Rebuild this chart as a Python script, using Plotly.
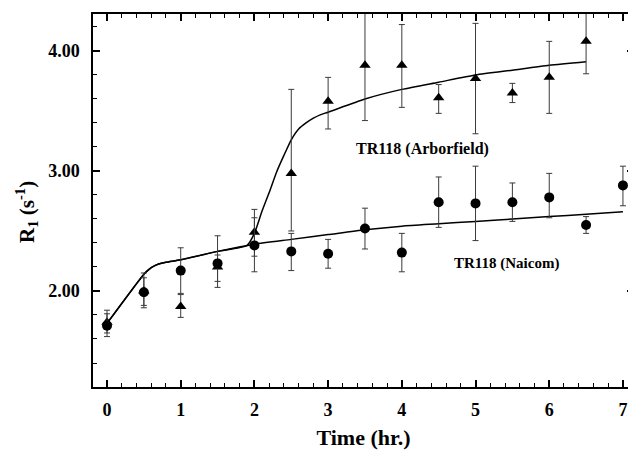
import plotly.graph_objects as go

# Measured data: TR118 (Naicom) - circles
t_nai = [0, 0.5, 1, 1.5, 2, 2.5, 3, 3.5, 4, 4.5, 5, 5.5, 6, 6.5, 7]
r_nai = [1.71, 1.99, 2.17, 2.23, 2.38, 2.33, 2.31, 2.52, 2.32, 2.74, 2.73, 2.74, 2.78, 2.55, 2.88]
hi_nai = [1.81, 2.11, 2.36, 2.46, 2.61, 2.48, 2.43, 2.69, 2.48, 2.95, 3.04, 2.90, 2.98, 2.62, 3.04]
lo_nai = [1.62, 1.88, 1.98, 2.03, 2.16, 2.17, 2.19, 2.35, 2.16, 2.53, 2.42, 2.58, 2.61, 2.48, 2.71]

# Measured data: TR118 (Arborfield) - triangles
t_arb = [0, 0.5, 1, 1.5, 2, 2.5, 3, 3.5, 4, 4.5, 5, 5.5, 6, 6.5]
r_arb = [1.74, 2.00, 1.87, 2.20, 2.49, 2.98, 3.58, 3.88, 3.88, 3.61, 3.77, 3.65, 3.78, 4.08]
hi_arb = [1.84, 2.15, 1.97, 2.30, 2.68, 3.68, 3.78, 4.35, 4.22, 3.72, 4.23, 3.73, 4.08, 4.45]
lo_arb = [1.65, 1.86, 1.78, 2.08, 2.29, 2.50, 3.35, 3.42, 3.53, 3.48, 3.31, 3.57, 3.48, 3.81]

# Fitted curves
t_fit_nai = [0, 0.5, 0.55, 0.6, 0.7, 0.8, 1.0, 1.5, 2.0, 2.5, 3.0, 3.5, 4.0, 4.5, 5.0, 5.5, 6.0, 6.5, 7.0]
r_fit_nai = [1.73, 2.14, 2.17, 2.195, 2.225, 2.24, 2.26, 2.33, 2.39, 2.43, 2.47, 2.51, 2.54, 2.56, 2.58, 2.60, 2.62, 2.64, 2.66]

t_fit_arb = [0, 0.5, 0.55, 0.6, 0.7, 0.8, 1.0, 1.5, 1.9, 2.0, 2.1, 2.2, 2.3, 2.4, 2.5, 2.6, 2.7, 2.8, 2.9, 3.0,
             3.5, 4.0, 4.5, 5.0, 5.5, 6.0, 6.5]
r_fit_arb = [1.73, 2.14, 2.17, 2.195, 2.225, 2.24, 2.26, 2.33, 2.38, 2.48, 2.66, 2.82, 2.99, 3.13, 3.26, 3.35, 3.40,
             3.44, 3.47, 3.49, 3.60, 3.68, 3.74, 3.80, 3.84, 3.88, 3.91]

x_ticks = [0, 1, 2, 3, 4, 5, 6, 7]
y_ticks = [2.0, 3.0, 4.0]
y_ticklabels = ["2.00", "3.00", "4.00"]

FONT = "Liberation Serif, Times New Roman, Tinos, serif"
ERRC = "#3a3a3a"

# page has an 8px body margin; figure is placed at (8, 8) on screen
OFF = 8
W, H = 636 - OFF, 451 - OFF
L, R, T, B = 93 - OFF, 2, 14 - OFF, 64
pw = W - L - R
ph = H - T - B


def px(xs):
    return (xs - OFF - L) / pw


def py(ys):
    return 1 - (ys - OFF - T) / ph


fig = go.Figure()

fig.add_trace(go.Scatter(x=t_fit_arb, y=r_fit_arb, mode="lines",
                         line=dict(color="black", width=1.5, shape="spline", smoothing=0.6), showlegend=False))
fig.add_trace(go.Scatter(x=t_fit_nai, y=r_fit_nai, mode="lines",
                         line=dict(color="black", width=1.5, shape="spline", smoothing=0.6), showlegend=False))

fig.add_trace(go.Scatter(
    x=t_arb, y=r_arb, mode="markers",
    marker=dict(symbol="triangle-up", size=10, color="black"),
    error_y=dict(type="data", symmetric=False,
                 array=[h - v for h, v in zip(hi_arb, r_arb)],
                 arrayminus=[v - l for v, l in zip(r_arb, lo_arb)],
                 color=ERRC, thickness=1, width=3),
    showlegend=False))

fig.add_trace(go.Scatter(
    x=t_nai, y=r_nai, mode="markers",
    marker=dict(symbol="circle", size=10, color="black"),
    error_y=dict(type="data", symmetric=False,
                 array=[h - v for h, v in zip(hi_nai, r_nai)],
                 arrayminus=[v - l for v, l in zip(r_nai, lo_nai)],
                 color=ERRC, thickness=1, width=3),
    showlegend=False))

# invisible trace on right axis for mirrored ticks
fig.add_trace(go.Scatter(x=[0], y=[2], yaxis="y2", mode="markers",
                         marker=dict(opacity=0), showlegend=False, hoverinfo="skip"))

fig.update_layout(
    width=W, height=H,
    margin=dict(l=L, r=R, t=T, b=B),
    paper_bgcolor="white", plot_bgcolor="white",
    font=dict(family=FONT, color="black"),
    xaxis=dict(range=[-0.19, 7.15], tickvals=x_ticks, ticktext=["<b>%d</b>" % v for v in x_ticks],
               ticks="inside", ticklen=7, tickwidth=1.5, tickcolor="black",
               minor=dict(dtick=0.2, tick0=0, ticks="inside", ticklen=4, tickwidth=1, tickcolor="black"),
               showline=True, linecolor="black", linewidth=1.5, mirror="ticks",
               showgrid=False, zeroline=False, ticklabelstandoff=6,
               tickfont=dict(family=FONT, size=18, color="black"),
               title=dict(text="<b>Time (hr.)</b>", font=dict(family=FONT, size=22), standoff=10)),
    yaxis=dict(range=[1.2, 4.308], tickvals=y_ticks, ticktext=["<b>%s</b>" % s for s in y_ticklabels],
               ticks="inside", ticklen=7, tickwidth=1.5, tickcolor="black",
               minor=dict(dtick=0.2, tick0=0, ticks="inside", ticklen=4, tickwidth=1, tickcolor="black"),
               showline=True, linecolor="black", linewidth=1.5,
               showgrid=False, zeroline=False, ticklabelstandoff=8,
               tickfont=dict(family=FONT, size=18, color="black")),
    yaxis2=dict(range=[1.2, 4.308], overlaying="y", side="right", tickvals=y_ticks,
                showticklabels=False, ticks="inside", ticklen=7, tickwidth=1.5, tickcolor="black",
                minor=dict(dtick=0.2, tick0=0, ticks="inside", ticklen=4, tickwidth=1, tickcolor="black"),
                showline=False, showgrid=False, zeroline=False),
    annotations=[
        dict(text="<b>TR118 (Arborfield)</b>", x=px(422), y=py(149), xref="paper", yref="paper",
             xanchor="center", yanchor="middle", showarrow=False, font=dict(family=FONT, size=16)),
        dict(text="<b>TR118 (Naicom)</b>", x=px(506), y=py(263), xref="paper", yref="paper",
             xanchor="center", yanchor="middle", showarrow=False, font=dict(family=FONT, size=15)),
        dict(text="<b>R<sub>1</sub> (s<sup>-1</sup>)</b>", textangle=-90, x=px(26), y=py(212),
             xref="paper", yref="paper", xanchor="center", yanchor="middle",
             showarrow=False, font=dict(family=FONT, size=21)),
    ],
)

fig.write_html("out.html")
